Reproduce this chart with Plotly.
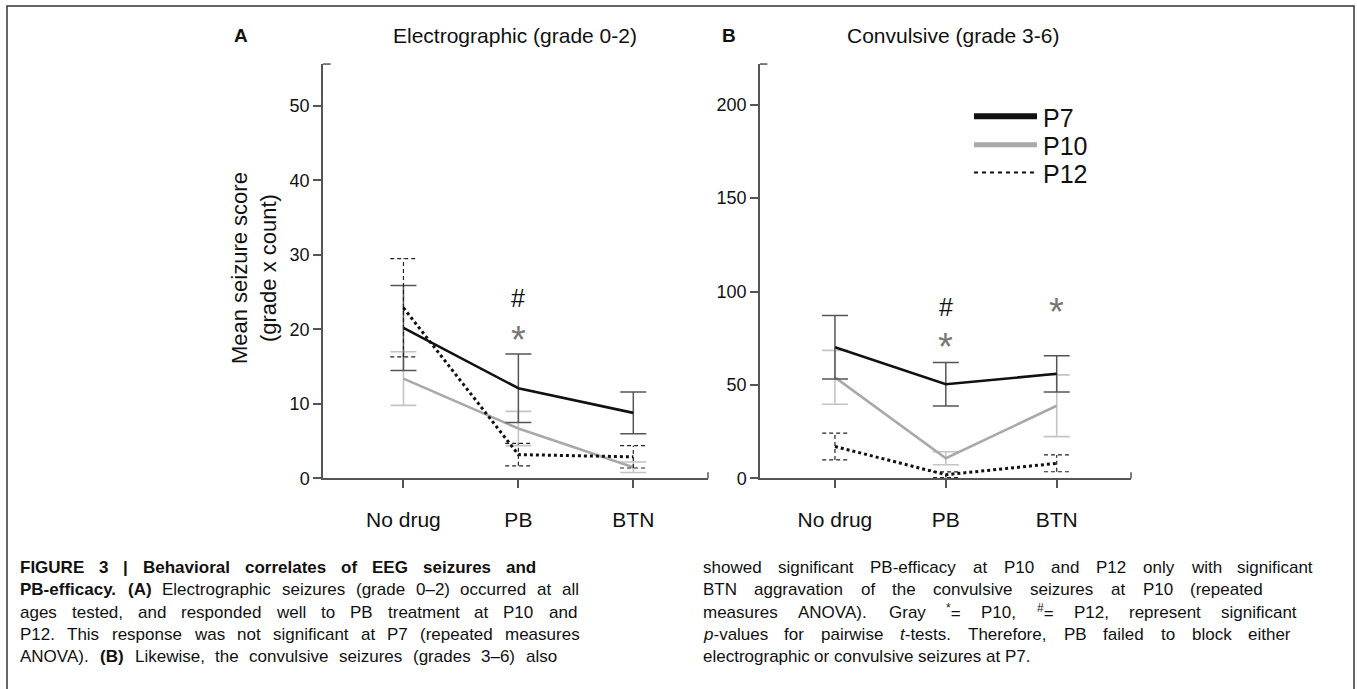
import re
import plotly.graph_objects as go

# ---------------- data ----------------
categories = ["No drug", "PB", "BTN"]
xpos = [0, 1, 2]

# Panel A: Electrographic (grade 0-2)
a_p7_mean = [20.2, 12.1, 8.8]
a_p7_err = [5.7, 4.6, 2.8]
a_p10_mean = [13.4, 6.7, 1.5]
a_p10_err = [3.6, 2.3, 0.7]
a_p12_mean = [22.9, 3.2, 2.9]
a_p12_err = [6.6, 1.5, 1.5]

# Panel B: Convulsive (grade 3-6)
b_p7_mean = [70.2, 50.4, 56.0]
b_p7_err = [17.0, 11.7, 9.7]
b_p10_mean = [54.1, 10.8, 38.9]
b_p10_err = [14.4, 3.5, 16.5]
b_p12_mean = [17.1, 2.0, 8.1]
b_p12_err = [7.2, 1.5, 4.5]

a_yticks = [0, 10, 20, 30, 40, 50]
b_yticks = [0, 50, 100, 150, 200]

# significance markers: (x index, y value, symbol)
a_sig = [(1, 24.5, "#"), (1, 20.0, "*")]
b_sig = [(1, 93.0, "#"), (1, 76.4, "*"), (2, 94.9, "*")]

series_names = ["P7", "P10", "P12"]

# ---------------- styling ----------------
W, H = 1357, 689
BLACK = "#111111"
GRAY = "#a9a9a9"
ERR_DARK = "#555555"
ERR_LIGHT = "#c4c4c4"
AXIS = "#555555"
FONT = "Liberation Sans, Arial, sans-serif"

fig = go.Figure()


def px_x(v):
    return v / W


def px_y(v):
    return 1 - v / H


def add_panel(xa, ya, p7m, p7e, p10m, p10e, p12m, p12e):
    fig.add_trace(go.Scatter(
        x=xpos, y=p10m, mode="lines", xaxis=xa, yaxis=ya, name="P10",
        line=dict(color=GRAY, width=2.6), showlegend=False,
        error_y=dict(type="data", array=p10e, visible=True,
                     color=ERR_LIGHT, thickness=1.6, width=13)))
    fig.add_trace(go.Scatter(
        x=xpos, y=p7m, mode="lines", xaxis=xa, yaxis=ya, name="P7",
        line=dict(color=BLACK, width=2.6), showlegend=False,
        error_y=dict(type="data", array=p7e, visible=True,
                     color=ERR_DARK, thickness=1.5, width=13)))
    cap = 0.115
    ex, ey = [], []
    for xi, m, e in zip(xpos, p12m, p12e):
        lo, hi = m - e, m + e
        ex += [xi, xi, None, xi - cap, xi + cap, None, xi - cap, xi + cap, None]
        ey += [lo, hi, None, hi, hi, None, lo, lo, None]
    fig.add_trace(go.Scatter(
        x=ex, y=ey, mode="lines", xaxis=xa, yaxis=ya,
        line=dict(color="#222222", width=1.2, dash="4px,3px"),
        showlegend=False, hoverinfo="skip"))
    fig.add_trace(go.Scatter(
        x=xpos, y=p12m, mode="lines", xaxis=xa, yaxis=ya, name="P12",
        line=dict(color=BLACK, width=3, dash="dot"), showlegend=False))


add_panel("x", "y", a_p7_mean, a_p7_err, a_p10_mean, a_p10_err, a_p12_mean, a_p12_err)
add_panel("x2", "y2", b_p7_mean, b_p7_err, b_p10_mean, b_p10_err, b_p12_mean, b_p12_err)

annotations = []
shapes = []

# significance symbols
for xa, ya, sig in (("x", "y", a_sig), ("x2", "y2", b_sig)):
    for xi, yv, s in sig:
        if s == "#":
            annotations.append(dict(x=xi, y=yv, xref=xa, yref=ya, text="#",
                                    showarrow=False, yshift=-2,
                                    font=dict(family=FONT, size=25, color="#111111")))
        else:
            annotations.append(dict(x=xi, y=yv, xref=xa, yref=ya, text="*",
                                    showarrow=False, yshift=-11,
                                    font=dict(family=FONT, size=38, color="#777777")))

# manual legend (panel B)
legend_rows = [118, 147, 175]
legend_styles = [dict(color=BLACK, width=6), dict(color=GRAY, width=5),
                 dict(color=BLACK, width=2, dash="4px,4px")]
for name, yy, st in zip(series_names, legend_rows, legend_styles):
    shapes.append(dict(type="line", xref="paper", yref="paper",
                       x0=px_x(974), x1=px_x(1037), y0=px_y(yy), y1=px_y(yy),
                       line=st))
    annotations.append(dict(x=px_x(1042), y=px_y(yy + 1), xref="paper", yref="paper",
                            text=name, showarrow=False, xanchor="left",
                            yanchor="middle", height=25, borderpad=0,
                            font=dict(family=FONT, size=25, color="#111")))

# panel letters, titles, y title
annotations += [
    dict(x=px_x(241), y=px_y(36), xref="paper", yref="paper", text="<b>A</b>",
         showarrow=False, xanchor="center", yanchor="middle",
         font=dict(family=FONT, size=19, color="#111")),
    dict(x=px_x(515), y=px_y(36), xref="paper", yref="paper",
         text="Electrographic (grade 0-2)", showarrow=False,
         xanchor="center", yanchor="middle",
         font=dict(family=FONT, size=21, color="#111")),
    dict(x=px_x(729), y=px_y(36), xref="paper", yref="paper", text="<b>B</b>",
         showarrow=False, xanchor="center", yanchor="middle",
         font=dict(family=FONT, size=19, color="#111")),
    dict(x=px_x(953), y=px_y(36), xref="paper", yref="paper",
         text="Convulsive (grade 3-6)", showarrow=False,
         xanchor="center", yanchor="middle",
         font=dict(family=FONT, size=21, color="#111")),
    dict(x=px_x(254), y=px_y(272), xref="paper", yref="paper",
         text="Mean seizure score<br>(grade x count)", textangle=-90,
         xanchor="center", yanchor="middle",
         showarrow=False, font=dict(family=FONT, size=22, color="#111")),
]

# ---------------- caption (justified word by word) ----------------
left_lines = [
    "<b>FIGURE 3 | Behavioral correlates of EEG seizures and</b>",
    "<b>PB-efficacy. (A)</b> Electrographic seizures (grade 0–2) occurred at all",
    "ages tested, and responded well to PB treatment at P10 and",
    "P12. This response was not significant at P7 (repeated measures",
    "ANOVA). <b>(B)</b> Likewise, the convulsive seizures (grades 3–6) also",
]
right_lines = [
    "showed significant PB-efficacy at P10 and P12 only with significant",
    "BTN aggravation of the convulsive seizures at P10 (repeated",
    "measures ANOVA). Gray <sup>*</sup>= P10, <sup>#</sup>= P12, represent significant",
    "<i>p</i>-values for pairwise <i>t</i>-tests. Therefore, PB failed to block either",
    "electrographic or convulsive seizures at P7.",
]
left_ends = [535, 578, 576, 579, 556]
right_ends = [1312, 1262, 1296, 1290, None]

# Arial / Liberation Sans advance widths (1/1000 em)
REG = dict(zip(" !\"#$%&'()*+,-./:;<=>?", [278, 278, 355, 556, 556, 889, 667, 191, 333, 333,
                                           389, 584, 278, 333, 278, 278, 278, 278, 584, 584,
                                           584, 556]))
REG.update({d: 556 for d in "0123456789"})
REG.update(dict(zip("ABCDEFGHIJKLMNOPQRSTUVWXYZ",
                    [667, 667, 722, 722, 667, 611, 778, 722, 278, 500, 667, 556, 833,
                     722, 778, 667, 778, 722, 667, 611, 722, 667, 944, 667, 667, 611])))
REG.update(dict(zip("abcdefghijklmnopqrstuvwxyz",
                    [556, 556, 500, 556, 556, 278, 556, 556, 222, 222, 500, 222, 833,
                     556, 556, 556, 556, 333, 500, 278, 556, 500, 722, 500, 500, 500])))
REG.update({"|": 260, "–": 556})
BOLD = dict(REG)
BOLD.update({"|": 280})
BOLD.update(dict(zip("ABCDEFGHIJKLMNOPQRSTUVWXYZ",
                     [722, 722, 722, 722, 667, 611, 778, 722, 278, 556, 722, 611, 833,
                      722, 778, 667, 778, 722, 667, 611, 722, 667, 944, 667, 667, 611])))
BOLD.update(dict(zip("abcdefghijklmnopqrstuvwxyz",
                     [556, 611, 556, 611, 556, 333, 611, 611, 278, 278, 556, 278, 889,
                      611, 611, 611, 611, 389, 556, 333, 611, 556, 778, 556, 556, 500])))

CAP_SIZE = 17


def parse(markup):
    chars = []
    flags = {"b": False, "i": False, "sup": False}
    for tok in re.split(r"(</?(?:b|i|sup)>)", markup):
        m = re.fullmatch(r"<(/?)(b|i|sup)>", tok)
        if m:
            flags[m.group(2)] = (m.group(1) == "")
            continue
        for ch in tok:
            chars.append((ch, flags["b"], flags["i"], flags["sup"]))
    words, cur = [], []
    for c in chars:
        if c[0] == " ":
            if cur:
                words.append(cur)
            cur = []
        else:
            cur.append(c)
    if cur:
        words.append(cur)
    return words


def word_html_width(word):
    html, width = "", 0.0
    runs = []
    for ch, b, i, s in word:
        if runs and runs[-1][1:] == [b, i, s]:
            runs[-1][0] += ch
        else:
            runs.append([ch, b, i, s])
        table = BOLD if b else REG
        width += table.get(ch, 556) * (0.7 if s else 1.0) * CAP_SIZE / 1000.0
    for txt, b, i, s in runs:
        piece = txt
        if s:
            piece = "<sup>" + piece + "</sup>"
        if i:
            piece = "<i>" + piece + "</i>"
        if b:
            piece = "<b>" + piece + "</b>"
        html += piece
    return html, width


def place_lines(lines, ends, x0):
    for li, (line, end) in enumerate(zip(lines, ends)):
        yy = px_y(576 + 22.6 * li)
        words = [word_html_width(w) for w in parse(line)]
        total = sum(w for _, w in words)
        if end is None or len(words) < 2:
            gap = 0.278 * CAP_SIZE
        else:
            gap = (end - x0 - total) / (len(words) - 1)
        x = x0
        for html, w in words:
            annotations.append(dict(x=px_x(x), y=yy, xref="paper", yref="paper",
                                    text=html, showarrow=False, xanchor="left",
                                    yanchor="middle", borderpad=0,
                                    font=dict(family=FONT, size=CAP_SIZE, color="#111")))
            x += w + gap


place_lines(left_lines, left_ends, 19)
place_lines(right_lines, right_ends, 702)

# frame and axis end hooks
shapes.append(dict(type="rect", xref="paper", yref="paper", x0=px_x(7), x1=px_x(1354),
                   y0=-0.05, y1=px_y(6), line=dict(color="#333", width=1.5)))
for xd, yd in (("x domain", "y domain"), ("x2 domain", "y2 domain")):
    shapes.append(dict(type="line", xref=xd, yref=yd, x0=0, x1=0.02, y0=1, y1=1,
                       line=dict(color=AXIS, width=1.5)))
    shapes.append(dict(type="line", xref=xd, yref=yd, x0=1, x1=1, y0=0, y1=0.015,
                       line=dict(color=AXIS, width=1.5)))

ydom = [px_y(485.5), px_y(65)]
xcommon = dict(tickmode="array", tickvals=xpos, ticktext=categories,
               showline=True, linecolor=AXIS, linewidth=1.5, ticks="outside",
               ticklen=8, tickcolor=AXIS, tickwidth=1.5, showgrid=False,
               zeroline=False, ticklabelstandoff=14,
               tickfont=dict(family=FONT, size=21, color="#111"))
ycommon = dict(showline=True, linecolor=AXIS, linewidth=1.5, ticks="outside",
               ticklen=8, tickcolor=AXIS, tickwidth=1.5, showgrid=False,
               zeroline=False, tickmode="array",
               tickfont=dict(family=FONT, size=18, color="#111"))

fig.update_layout(
    width=W, height=H, margin=dict(l=0, r=0, t=0, b=0),
    paper_bgcolor="white", plot_bgcolor="white",
    xaxis=dict(domain=[px_x(323), px_x(708)], range=[-0.70, 2.65], **xcommon),
    yaxis=dict(domain=ydom, range=[0, 55.6], tickvals=a_yticks, **ycommon),
    xaxis2=dict(domain=[px_x(760), px_x(1131)], range=[-0.676, 2.67],
                anchor="y2", **xcommon),
    yaxis2=dict(domain=ydom, range=[0, 221.7], tickvals=b_yticks, anchor="x2",
                **ycommon),
    showlegend=False,
    annotations=annotations, shapes=shapes,
)

fig.write_html("out.html")
